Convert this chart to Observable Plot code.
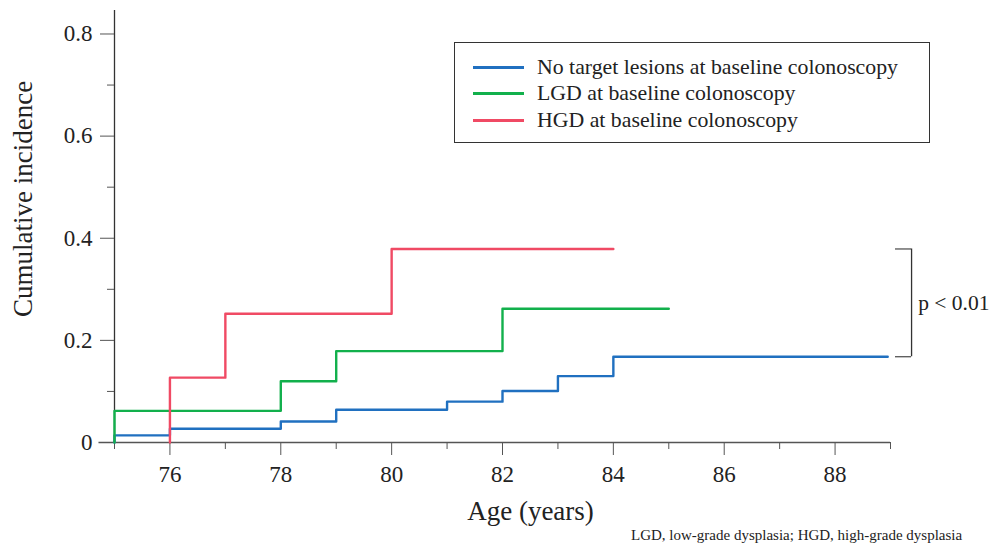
<!DOCTYPE html>
<html>
<head>
<meta charset="utf-8">
<script src="https://cdn.jsdelivr.net/npm/d3@7"></script>
<script src="https://cdn.jsdelivr.net/npm/@observablehq/plot@0.6"></script>
<style>
  html, body { margin: 0; padding: 0; background: #fff; }
  #wrap { position: relative; width: 991px; height: 547px; font-family: "Liberation Serif", "Times New Roman", serif; color: #222; }
  #legend { position: absolute; left: 454px; top: 42px; width: 476px; height: 101px; border: 1px solid #333; box-sizing: border-box; }
  .row { position: absolute; left: 0; height: 26px; display: flex; align-items: center; font-size: 21.8px; }
  .sw { display: inline-block; margin-left: 18px; width: 51px; height: 3px; }
  .lbl { margin-left: 13px; white-space: nowrap; }
  #caption { position: absolute; left: 631px; top: 527px; font-size: 15px; white-space: nowrap; }
</style>
</head>
<body>
<div id="wrap">
  <div id="chart"></div>
  <div id="legend"></div>
  <div id="caption"></div>
</div>
<script>
// Series data (age in years, cumulative incidence)
const seriesNames = ["No target lesions at baseline colonoscopy", "LGD at baseline colonoscopy", "HGD at baseline colonoscopy"];
const seriesColors = ["#2070c0", "#12b04c", "#f04a64"];

const noTargetAge = [75, 75, 76, 78, 79, 81, 82, 83, 84, 88.95];
const noTargetInc = [0, 0.014, 0.027, 0.041, 0.064, 0.080, 0.101, 0.130, 0.168, 0.168];

const lgdAge = [75, 75, 78, 79, 82, 85];
const lgdInc = [0, 0.062, 0.120, 0.179, 0.262, 0.262];

const hgdAge = [76, 76, 77, 80, 84];
const hgdInc = [0, 0.127, 0.252, 0.379, 0.379];

const xMajorTicks = [76, 78, 80, 82, 84, 86, 88];
const xMinorTicks = [75, 77, 79, 81, 83, 85, 87, 89];
const yMajorTicks = [0, 0.2, 0.4, 0.6, 0.8];
const yMinorTicks = [0.1, 0.3, 0.5, 0.7];

const pText = "p < 0.01";
const captionText = "LGD, low-grade dysplasia; HGD, high-grade dysplasia";

const toRows = (ages, incs, name) => ages.map((a, i) => ({age: a, inc: incs[i], name}));
const rows = [
  ...toRows(noTargetAge, noTargetInc, seriesNames[0]),
  ...toRows(lgdAge, lgdInc, seriesNames[1]),
  ...toRows(hgdAge, hgdInc, seriesNames[2])
];

const blueEnd = noTargetInc[noTargetInc.length - 1];
const redEnd = hgdInc[hgdInc.length - 1];

const chart = Plot.plot({
  width: 991,
  height: 547,
  marginTop: 10,
  marginBottom: 105,
  marginLeft: 114,
  marginRight: 101,
  style: { fontFamily: "'Liberation Serif', 'Times New Roman', serif", fontSize: "23px", color: "#222", background: "#fff" },
  x: { domain: [75, 89], label: null },
  y: { domain: [0, 0.846], label: null },
  color: { domain: seriesNames, range: seriesColors },
  marks: [
    // axes lines
    Plot.ruleY([0], { x1: 74.72, x2: 89, stroke: "#555", strokeWidth: 1.3, clip: false }),
    Plot.ruleX([75], { y1: 0, y2: 0.846, stroke: "#333", strokeWidth: 1.3 }),
    // x ticks
    Plot.axisX({ ticks: xMajorTicks, tickSize: 13, tickPadding: 10, tickFormat: d => String(d), label: null, stroke: "#555", fontSize: 23 }),
    Plot.axisX({ ticks: xMinorTicks, tickSize: 7, tickFormat: () => "", label: null, stroke: "#555" }),
    // y ticks
    Plot.axisY({ ticks: yMajorTicks, tickSize: 14, tickPadding: 8, tickFormat: d => d === 0 ? "0" : d.toFixed(1), label: null, stroke: "#555", fontSize: 23 }),
    Plot.axisY({ ticks: yMinorTicks, tickSize: 7, tickFormat: () => "", label: null, stroke: "#555" }),
    // axis titles
    Plot.text(["Age (years)"], { text: d => d, frameAnchor: "bottom", lineAnchor: "middle", textAnchor: "middle", dx: 28, dy: 69, fontSize: 27, fill: "#222" }),
    Plot.text(["Cumulative incidence"], { text: d => d, frameAnchor: "left", textAnchor: "middle", lineAnchor: "middle", y: [0.477], rotate: -90, dx: -91, fontSize: 27, fill: "#222" }),
    // curves
    Plot.line(rows, { x: "age", y: "inc", z: "name", stroke: "name", curve: "step-after", strokeWidth: 2.4 }),
    // p-value bracket
    Plot.ruleY([redEnd, blueEnd], { x1: 89.09, x2: 89.38, stroke: "#555", strokeWidth: 1.3, clip: false }),
    Plot.ruleX([89.38], { y1: blueEnd, y2: redEnd, stroke: "#333", strokeWidth: 1.3, clip: false }),
    Plot.text([pText], { text: d => d, x: [89.5], y: [(redEnd + blueEnd) / 2], textAnchor: "start", fontSize: 21.5, fill: "#222", clip: false })
  ]
});
document.getElementById("chart").appendChild(chart);

// legend
const legend = document.getElementById("legend");
seriesNames.forEach((n, i) => {
  const r = document.createElement("div");
  r.className = "row";
  r.style.top = (11 + i * 26.5) + "px";
  const sw = document.createElement("span");
  sw.className = "sw";
  sw.style.background = seriesColors[i];
  const lb = document.createElement("span");
  lb.className = "lbl";
  lb.textContent = n;
  r.appendChild(sw);
  r.appendChild(lb);
  legend.appendChild(r);
});
document.getElementById("caption").textContent = captionText;
</script>
</body>
</html>
